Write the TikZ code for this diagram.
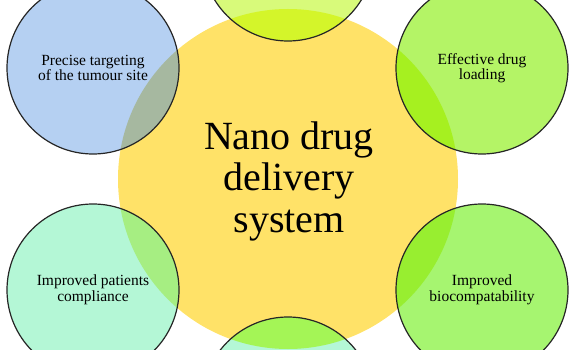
\documentclass[tikz,border=0pt]{standalone}
\usepackage{fontspec}
\setmainfont{Liberation Serif}
\definecolor{hubc}{RGB}{255,226,104}
\definecolor{bluec}{RGB}{181,208,242}
\definecolor{blueo}{RGB}{166,184,160}
\definecolor{limec}{RGB}{180,244,102}
\definecolor{limeo}{RGB}{166,240,32}
\definecolor{greenc}{RGB}{166,245,112}
\definecolor{greeno}{RGB}{152,238,48}
\definecolor{mintc}{RGB}{180,247,214}
\definecolor{minto}{RGB}{166,238,130}
\definecolor{topc}{RGB}{216,250,122}
\definecolor{topo}{RGB}{212,245,42}
\definecolor{boto}{RGB}{164,245,86}
\tikzset{
  sat/.style={circle, draw=black!85, line width=1.2pt, minimum size=172pt, inner sep=0pt,
    align=center, font=\fontsize{15.5}{15.5}\selectfont},
  hubtxt/.style={align=center, font=\fontsize{40}{41.5}\selectfont}
}
\begin{document}
\begin{tikzpicture}[x=1pt,y=-1pt]
\useasboundingbox (0,0) rectangle (570,350);
\clip (0,0) rectangle (570,350);
% hub
\node[circle, fill=hubc, minimum size=340pt, inner sep=0pt] (hub) at (288,179) {};
% satellite centres
\coordinate (ptl) at (93,68);
\coordinate (ptr) at (482,68);
\coordinate (pbl) at (93,290);
\coordinate (pbr) at (482,290);
\coordinate (ptop) at (288,-45);
\coordinate (pbot) at (288,403);
% satellite fills
\fill[bluec] (ptl) circle (86pt);
\fill[limec] (ptr) circle (86pt);
\fill[mintc] (pbl) circle (86pt);
\fill[greenc] (pbr) circle (86pt);
\fill[topc] (ptop) circle (86pt);
\fill[mintc] (pbot) circle (86pt);
% overlaps with hub
\begin{scope}
  \clip (hub.center) circle (170pt);
  \fill[blueo] (ptl) circle (86pt);
  \fill[limeo] (ptr) circle (86pt);
  \fill[minto] (pbl) circle (86pt);
  \fill[greeno] (pbr) circle (86pt);
  \fill[topo] (ptop) circle (86pt);
  \fill[boto] (pbot) circle (86pt);
\end{scope}
% outlines and labels
\node[sat] (tl) at (ptl) {Precise targeting\\of the tumour site};
\node[sat] (tr) at (ptr) {Effective drug\\loading};
\node[sat] (bl) at (pbl) {Improved patients\\compliance};
\node[sat] (br) at (pbr) {Improved\\biocompatability};
\node[sat] (top) at (ptop) {};
\node[sat] (bot) at (pbot) {};
\node[hubtxt] (hubtext) at (289,181) {Nano drug\\delivery\\system};
\end{tikzpicture}
\end{document}
